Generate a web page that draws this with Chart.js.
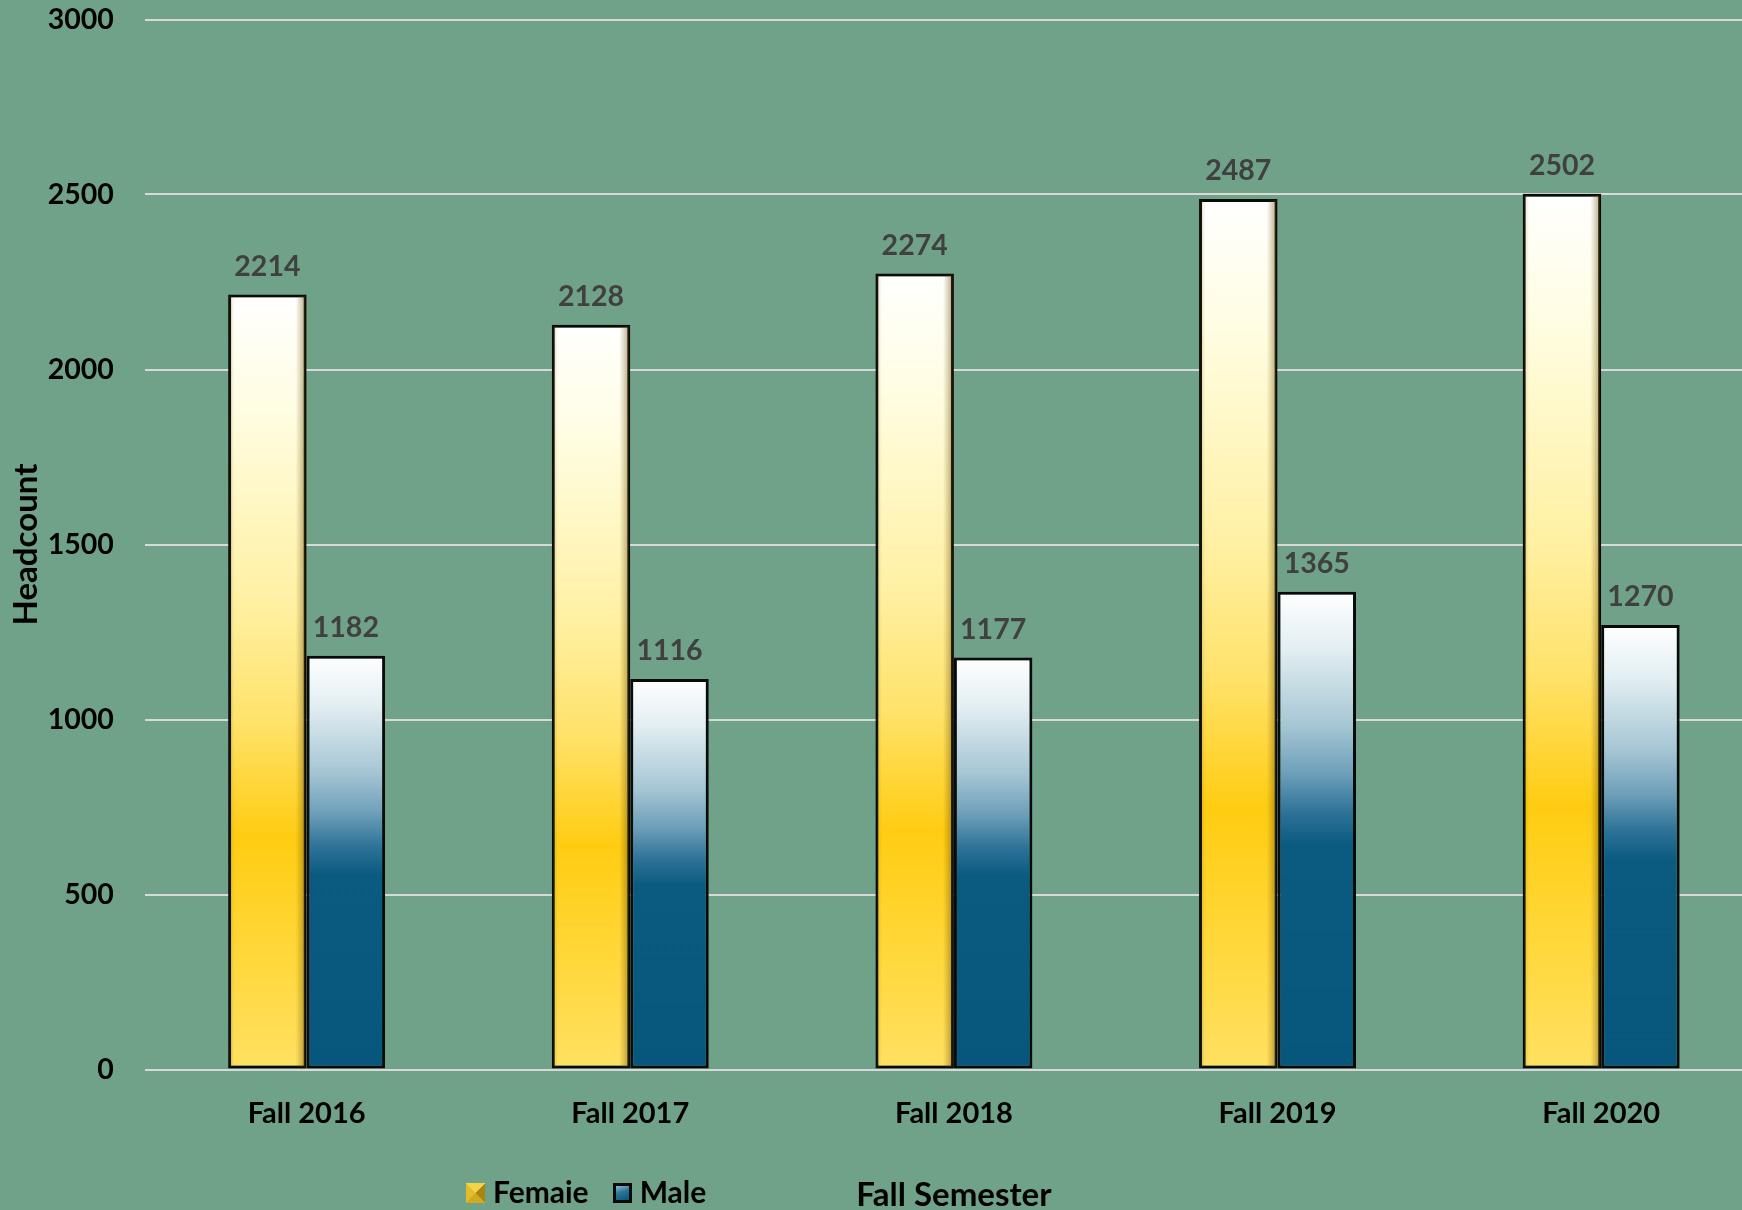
<!DOCTYPE html>
<html>
<head>
<meta charset="utf-8">
<script src="https://cdn.jsdelivr.net/npm/chart.js@4.4.0/dist/chart.umd.min.js"></script>
<style>
  html, body { margin: 0; padding: 0; background: #6fa288; overflow: hidden; }
  #wrap { position: relative; width: 1742px; height: 1210px; overflow: hidden; }
  canvas { display: block; }
  #legend { position: absolute; left: 466px; top: 1173px; font: bold 30px Lato, sans-serif; line-height: 36px; color: #000; white-space: nowrap; }
  #legend span.item { display: inline-block; margin-right: 24px; }
  #legend i { display: inline-block; width: 19px; height: 20px; margin-right: 8px; vertical-align: 0px; box-sizing: border-box; }
</style>
</head>
<body>
<div id="wrap">
  <canvas id="bar-chart-grouped" width="1763" height="1210"></canvas>
  <div id="legend"></div>
</div>
<script>
// data
const semesters = ["Fall 2016", "Fall 2017", "Fall 2018", "Fall 2019", "Fall 2020"];
const seriesNames = ["Femaie", "Male"];
const female = [2214, 2128, 2274, 2487, 2502];
const male = [1182, 1116, 1177, 1365, 1270];
const yTicks = [0, 500, 1000, 1500, 2000, 2500, 3000];

const femaleStops = [[0, "#ffffff"], [0.15, "#fffde2"], [0.4, "#fff0a2"], [0.55, "#ffe26a"], [0.7, "#ffcc12"], [0.86, "#ffd83c"], [1, "#ffe062"]];
const maleStops = [[0, "#ffffff"], [0.12, "#e2eef2"], [0.28, "#a6c6d4"], [0.38, "#6e9fb9"], [0.46, "#2f7398"], [0.53, "#0b5a80"], [1, "#07567b"]];

function barGradient(stops) {
  return function (ctx) {
    const chart = ctx.chart;
    if (ctx.type !== 'data' || !chart.chartArea) return stops[stops.length - 1][1];
    const y = chart.scales.y;
    const top = y.getPixelForValue(ctx.raw);
    const base = y.getPixelForValue(0);
    const g = chart.ctx.createLinearGradient(0, top, 0, base);
    stops.forEach(s => g.addColorStop(s[0], s[1]));
    return g;
  };
}

// bevel shading on the female bars + value labels
const barDecor = {
  id: 'barDecor',
  afterDatasetsDraw(chart) {
    const ctx = chart.ctx;
    chart.getDatasetMeta(0).data.forEach(bar => {
      const l = bar.x - bar.width / 2, r = bar.x + bar.width / 2;
      const g = ctx.createLinearGradient(l, 0, r, 0);
      g.addColorStop(0, "rgba(110,80,0,0.25)");
      g.addColorStop(0.08, "rgba(110,80,0,0)");
      g.addColorStop(0.86, "rgba(110,80,0,0)");
      g.addColorStop(1, "rgba(90,60,0,0.5)");
      ctx.save();
      ctx.fillStyle = g;
      ctx.fillRect(l + 1.5, bar.y + 1.5, bar.width - 3, bar.base - bar.y - 3);
      ctx.restore();
    });
    ctx.save();
    ctx.font = "bold 28.5px Lato, sans-serif";
    ctx.fillStyle = "#404040";
    ctx.textAlign = "center";
    ctx.textBaseline = "alphabetic";
    chart.data.datasets.forEach((ds, i) => {
      chart.getDatasetMeta(i).data.forEach((bar, j) => {
        ctx.fillText(String(ds.data[j]), bar.x, bar.y - 19);
      });
    });
    ctx.restore();
  }
};

new Chart(document.getElementById("bar-chart-grouped"), {
  type: 'bar',
  data: {
    labels: semesters,
    datasets: [
      {
        label: seriesNames[0],
        data: female,
        backgroundColor: barGradient(femaleStops),
        borderColor: "#0a0a0a",
        borderWidth: 3,
        borderSkipped: false
      }, {
        label: seriesNames[1],
        data: male,
        backgroundColor: barGradient(maleStops),
        borderColor: "#0a0a0a",
        borderWidth: 3,
        borderSkipped: false
      }
    ]
  },
  options: {
    responsive: false,
    animation: false,
    events: [],
    layout: { padding: { top: 19.5, left: 0, right: 0, bottom: 0 } },
    datasets: { bar: { categoryPercentage: 0.485, barPercentage: 1.0 } },
    plugins: {
      legend: { display: false },
      tooltip: { enabled: false },
      title: { display: false }
    },
    scales: {
      x: {
        grid: { display: false },
        border: { display: false },
        ticks: { color: "#000", font: { family: "Lato", weight: "bold", size: 29 }, padding: 19 },
        title: { display: true, text: "Fall Semester", color: "#000", font: { family: "Lato", weight: "bold", size: 33 }, padding: { top: 0, bottom: -5 } },
        afterFit(scale) { scale.height = 140.5; scale.paddingLeft = 0; scale.paddingRight = 0; }
      },
      y: {
        min: 0,
        max: 3000,
        afterBuildTicks(scale) { scale.ticks = yTicks.map(v => ({ value: v })); },
        grid: { color: "#d9d9d9", lineWidth: 2, drawTicks: false },
        border: { display: false },
        ticks: { color: "#000", font: { family: "Lato", weight: "bold", size: 28.5 }, padding: 31, callback: v => String(v) },
        title: { display: true, text: "Headcount", color: "#000", font: { family: "Lato", weight: "bold", size: 33 }, padding: { top: 7, bottom: 0 } },
        afterFit(scale) { scale.width = 144.8; scale.paddingTop = 0; scale.paddingBottom = 0; }
      }
    }
  },
  plugins: [barDecor]
});

// legend as html text
const legendEl = document.getElementById("legend");
const swatches = [
  "conic-gradient(from -45deg, #f3d448 0deg 90deg, #a98612 90deg 180deg, #d2aa1e 180deg 270deg, #e2bc2a 270deg 360deg)",
  "linear-gradient(160deg, #8fb8cf 0%, #2d7397 45%, #07567b 100%)"
];
const swBorder = ["none", "3px solid #0a0a0a"];
seriesNames.forEach((name, i) => {
  const s = document.createElement("span");
  s.className = "item";
  const sw = document.createElement("i");
  sw.style.background = swatches[i];
  sw.style.border = swBorder[i];
  s.appendChild(sw);
  s.appendChild(document.createTextNode(name));
  legendEl.appendChild(s);
});
</script>
</body>
</html>
